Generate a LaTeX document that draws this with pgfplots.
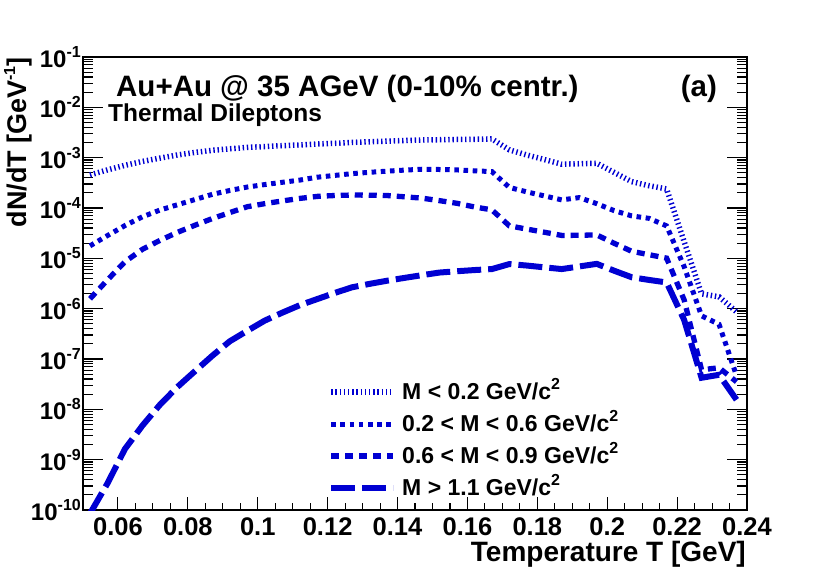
\documentclass[border=0pt]{standalone}
\usepackage{fontspec}
\setmainfont{Liberation Sans}
\usepackage{pgfplots}
\pgfplotsset{compat=1.18}
\definecolor{rootblue}{RGB}{0,0,210}
\newcommand\fs[1]{\fontsize{#1}{#1}\selectfont\bfseries}
\newcommand\sups[1]{\raisebox{0.42em}{\fontsize{16bp}{16bp}\selectfont\bfseries #1}}
\begin{document}
\begin{tikzpicture}
\useasboundingbox (0,0) rectangle (830bp,568bp);
% axis with the y ticks
\begin{axis}[at={(83bp,58bp)}, anchor=south west, scale only axis,
  width=664bp, height=453bp,
  xmin=0.05, xmax=0.24, ymode=log, ymin=1e-10, ymax=1e-1,
  xtick=\empty,
  ytick={1e-10,1e-9,1e-8,1e-7,1e-6,1e-5,1e-4,1e-3,1e-2,1e-1},
  yticklabels={10\sups{-10},10\sups{-9},10\sups{-8},10\sups{-7},10\sups{-6},10\sups{-5},10\sups{-4},10\sups{-3},10\sups{-2},10\sups{-1}},
  ytick pos=both, yticklabel pos=left, tick align=inside,
  major tick length=20bp, minor tick length=10bp,
  every tick/.style={black, line width=1.1bp},
  axis line style={line width=1.6bp},
  yticklabel style={font=\fs{24bp}, inner sep=2bp},
  ylabel={dN/dT [GeV\sups{-1}]},
  ylabel style={at={(rel axis cs:-0.0979,1)}, anchor=east, font=\fs{27bp}, inner sep=0pt},
]
\end{axis}
% axis with the data
\begin{axis}[at={(83bp,58bp)}, anchor=south west, scale only axis,
  width=664bp, height=453bp,
  xmin=0.05, xmax=0.24, ymode=log, ymin=1e-10, ymax=1e-1,
  ytick=\empty, yminorticks=false,
  xtick={0.06,0.08,0.1,0.12,0.14,0.16,0.18,0.2,0.22,0.24},
  xticklabels={0.06,0.08,0.1,0.12,0.14,0.16,0.18,0.2,0.22,0.24},
  minor x tick num=3,
  xtick pos=left, tick align=inside,
  major tick length=13bp, minor tick length=7bp,
  every tick/.style={black, line width=1.1bp},
  axis line style={line width=1.6bp},
  xticklabel style={font=\fs{25.5bp}, inner sep=0pt, yshift=-7bp},
  xlabel={Temperature T [GeV]},
  xlabel style={at={(rel axis cs:1,0)}, anchor=north east, yshift=-31bp, xshift=-1bp, font=\fs{28bp}, inner sep=0pt},
  legend style={at={(rel axis cs:0.369,0.285)}, anchor=north west, draw=none, fill=none,
    font=\fs{23bp}, row sep=10bp, column sep=6bp, inner sep=0pt,
    nodes={inner sep=0pt, text height=18bp, text depth=4bp}},
  legend cell align=left,
  legend image code/.code={\draw[#1] (0bp,0bp) -- (62bp,0bp);},
]
\addplot[rootblue, line width=5.5bp, dash pattern=on 1.4bp off 2.8bp] coordinates {
(0.052,4.54e-4) (0.057,5.71e-4) (0.062,7.05e-4) (0.067,8.42e-4) (0.072,9.80e-4)
(0.077,1.13e-3) (0.082,1.27e-3) (0.087,1.40e-3) (0.092,1.50e-3) (0.097,1.60e-3)
(0.102,1.66e-3) (0.107,1.73e-3) (0.112,1.79e-3) (0.117,1.87e-3) (0.122,1.93e-3)
(0.127,2.01e-3) (0.132,2.07e-3) (0.137,2.13e-3) (0.142,2.19e-3) (0.147,2.25e-3)
(0.152,2.27e-3) (0.157,2.30e-3) (0.162,2.32e-3) (0.167,2.36e-3) (0.172,1.43e-3)
(0.177,1.13e-3) (0.182,9.18e-4) (0.187,7.41e-4) (0.192,7.58e-4) (0.197,7.76e-4)
(0.202,5.09e-4) (0.207,3.34e-4) (0.212,2.77e-4) (0.217,2.39e-4) (0.222,2.17e-5)
(0.227,1.97e-6) (0.232,1.72e-6) (0.237,8.65e-7)};
\addlegendentry{M < 0.2 GeV/c\sups{2}}
\addplot[rootblue, line width=5bp, dash pattern=on 4.6bp off 4.6bp] coordinates {
(0.052,1.77e-5) (0.057,2.83e-5) (0.062,4.48e-5) (0.067,6.69e-5) (0.072,9.09e-5)
(0.077,1.16e-4) (0.082,1.47e-4) (0.087,1.87e-4) (0.092,2.23e-4) (0.097,2.61e-4)
(0.102,2.92e-4) (0.107,3.24e-4) (0.112,3.58e-4) (0.117,4.09e-4) (0.122,4.44e-4)
(0.127,4.82e-4) (0.132,5.12e-4) (0.137,5.40e-4) (0.142,5.66e-4) (0.147,5.89e-4)
(0.152,5.82e-4) (0.157,5.71e-4) (0.162,5.48e-4) (0.167,5.29e-4) (0.172,2.56e-4)
(0.177,2.09e-4) (0.182,1.74e-4) (0.187,1.45e-4) (0.192,1.61e-4) (0.197,1.22e-4)
(0.202,8.85e-5) (0.207,6.97e-5) (0.212,6.22e-5) (0.217,4.41e-5) (0.222,6.87e-6)
(0.227,7.21e-7) (0.232,4.89e-7) (0.237,4.65e-8)};
\addlegendentry{0.2 < M < 0.6 GeV/c\sups{2}}
\addplot[rootblue, line width=5.3bp, dash pattern=on 8bp off 6bp] coordinates {
(0.052,1.57e-6) (0.057,3.72e-6) (0.062,8.55e-6) (0.067,1.51e-5) (0.072,2.27e-5)
(0.077,3.28e-5) (0.082,4.54e-5) (0.087,6.17e-5) (0.092,8.11e-5) (0.097,1.06e-4)
(0.102,1.22e-4) (0.107,1.38e-4) (0.112,1.55e-4) (0.117,1.70e-4) (0.122,1.77e-4)
(0.127,1.81e-4) (0.132,1.80e-4) (0.137,1.77e-4) (0.142,1.67e-4) (0.147,1.57e-4)
(0.152,1.40e-4) (0.157,1.24e-4) (0.162,1.05e-4) (0.167,9.18e-5) (0.172,4.42e-5)
(0.177,3.81e-5) (0.182,3.30e-5) (0.187,2.85e-5) (0.192,2.87e-5) (0.197,2.92e-5)
(0.202,1.99e-5) (0.207,1.38e-5) (0.212,1.18e-5) (0.217,1.01e-5) (0.222,1.50e-6)
(0.227,6.11e-8) (0.232,6.70e-8) (0.237,3.53e-8)};
\addlegendentry{0.6 < M < 0.9 GeV/c\sups{2}}
\addplot[rootblue, line width=6bp, dash pattern=on 24bp off 7bp] coordinates {
(0.052,8.46e-11) (0.057,3.38e-10) (0.062,1.63e-9) (0.067,4.75e-9) (0.072,1.23e-8)
(0.077,2.78e-8) (0.082,5.70e-8) (0.087,1.16e-7) (0.092,2.25e-7) (0.097,3.63e-7)
(0.102,5.79e-7) (0.107,8.32e-7) (0.112,1.17e-6) (0.117,1.55e-6) (0.122,2.05e-6)
(0.127,2.66e-6) (0.132,3.11e-6) (0.137,3.59e-6) (0.142,4.09e-6) (0.147,4.63e-6)
(0.152,5.22e-6) (0.157,5.54e-6) (0.162,5.85e-6) (0.167,6.12e-6) (0.172,7.70e-6)
(0.177,7.19e-6) (0.182,6.62e-6) (0.187,6.12e-6) (0.192,6.90e-6) (0.197,7.77e-6)
(0.202,5.67e-6) (0.207,4.21e-6) (0.212,3.72e-6) (0.217,3.32e-6) (0.222,6.01e-7)
(0.227,4.24e-8) (0.232,4.86e-8) (0.237,1.55e-8)};
\addlegendentry{M > 1.1 GeV/c\sups{2}}
\node[anchor=base west, inner sep=0pt, font=\fs{29.5bp}] at (rel axis cs:0.0497,0.9139) {Au+Au @ 35 AGeV (0-10\% centr.)};
\node[anchor=base west, inner sep=0pt, font=\fs{24.5bp}] at (rel axis cs:0.0377,0.8587) {Thermal Dileptons};
\node[anchor=base east, inner sep=0pt, font=\fs{29.5bp}] at (rel axis cs:0.955,0.9139) {(a)};
\end{axis}
\end{tikzpicture}
\end{document}
